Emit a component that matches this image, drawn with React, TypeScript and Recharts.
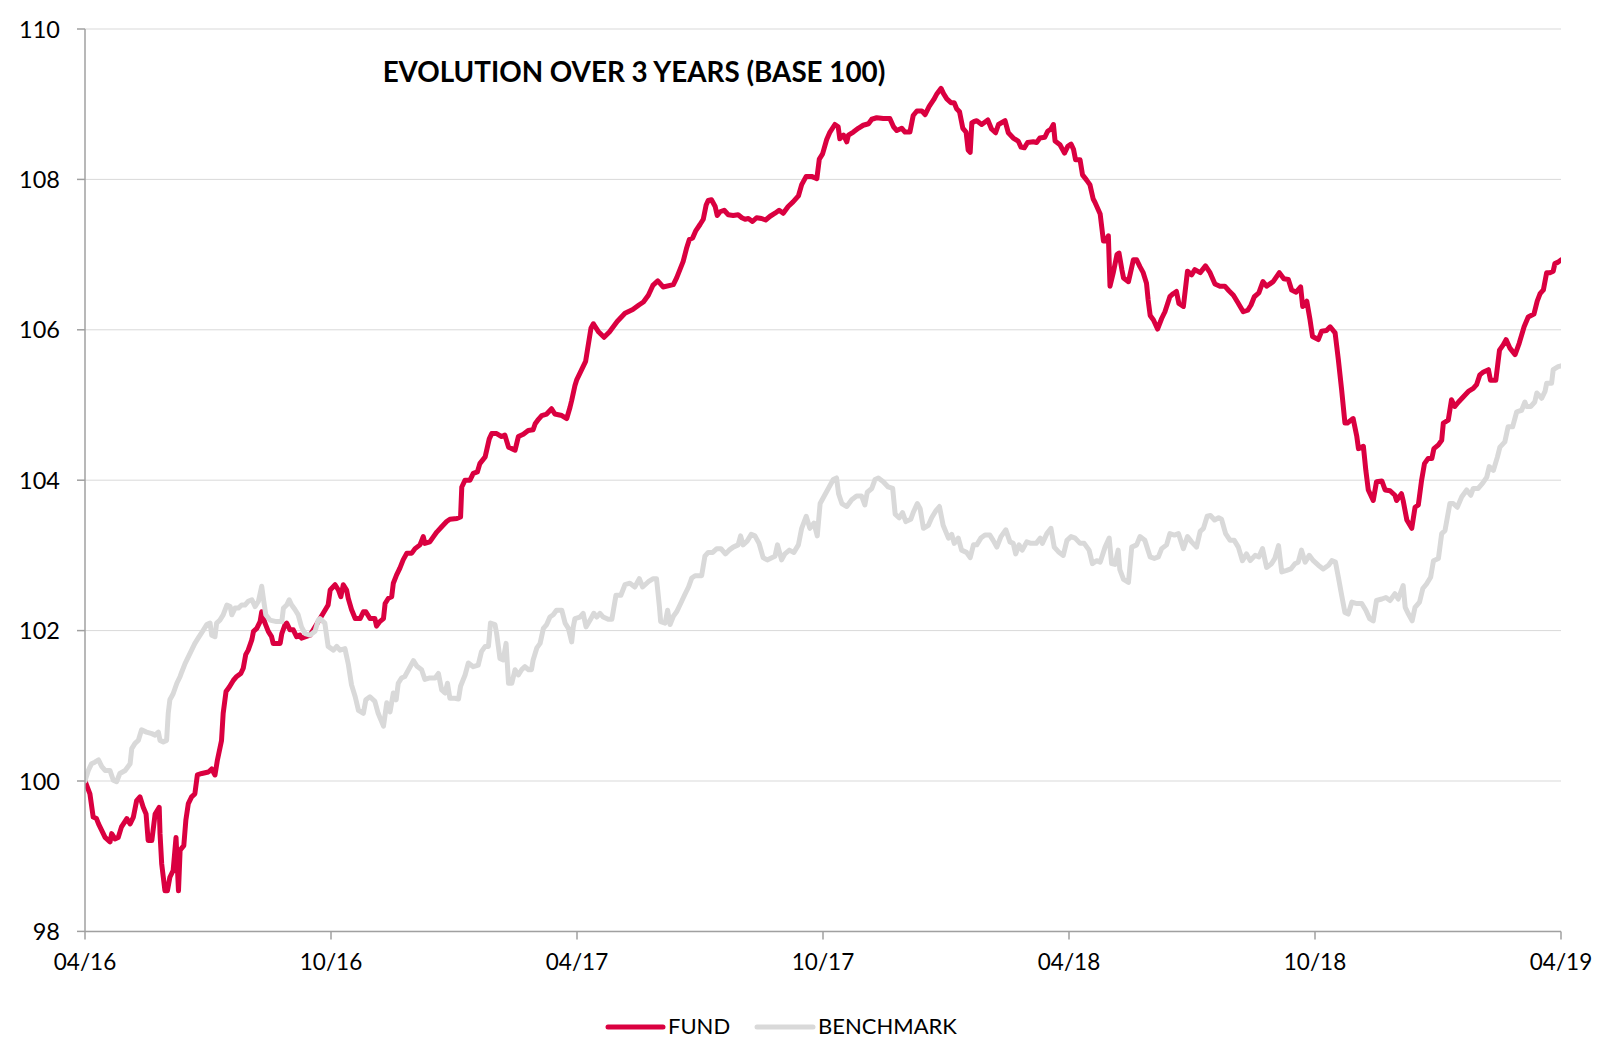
import React from "react";
import { LineChart, Line, XAxis, YAxis, CartesianGrid } from "recharts";

// x = months since 04/16, y = index value (base 100)
const dateLabels = ["04/16", "10/16", "04/17", "10/17", "04/18", "10/18", "04/19"];
const monthTicks = [0, 6, 12, 18, 24, 30, 36];
const valueTicks = [98, 100, 102, 104, 106, 108, 110];

const fundPoints: [number, number][] = [
    [0, 100], [0.12, 99.83], [0.2, 99.52], [0.28, 99.5], [0.33, 99.43], [0.41, 99.34], [0.49, 99.25], [0.61, 99.19],
    [0.65, 99.3], [0.73, 99.23], [0.81, 99.25], [0.89, 99.39], [1.02, 99.5], [1.1, 99.43], [1.18, 99.52], [1.26, 99.74],
    [1.34, 99.79], [1.42, 99.65], [1.49, 99.56], [1.54, 99.21], [1.63, 99.21], [1.71, 99.56], [1.81, 99.65], [1.83, 99.3],
    [1.87, 98.9], [1.95, 98.54], [2.01, 98.54], [2.07, 98.72], [2.15, 98.81], [2.22, 99.25], [2.28, 98.54], [2.32, 99.08],
    [2.41, 99.14], [2.46, 99.48], [2.52, 99.7], [2.6, 99.79], [2.68, 99.83], [2.74, 100.08], [2.85, 100.1], [3.01, 100.12],
    [3.09, 100.16], [3.17, 100.08], [3.23, 100.28], [3.33, 100.54], [3.37, 100.9], [3.44, 101.19], [3.52, 101.25], [3.62, 101.34],
    [3.7, 101.39], [3.8, 101.43], [3.86, 101.5], [3.92, 101.68], [3.98, 101.74], [4.07, 101.88], [4.11, 101.99], [4.19, 102.03],
    [4.27, 102.12], [4.31, 102.25], [4.39, 102.1], [4.47, 101.99], [4.55, 101.92], [4.59, 101.83], [4.76, 101.83], [4.8, 101.96],
    [4.88, 102.08], [4.92, 102.1], [5.0, 102.01], [5.08, 102.01], [5.16, 101.92], [5.24, 101.94], [5.28, 101.9], [5.49, 101.94],
    [5.69, 102.12], [5.81, 102.23], [5.93, 102.34], [5.98, 102.54], [6.1, 102.61], [6.18, 102.54], [6.24, 102.45], [6.3, 102.61],
    [6.38, 102.54], [6.42, 102.43], [6.5, 102.28], [6.59, 102.16], [6.71, 102.16], [6.79, 102.25], [6.85, 102.25], [6.95, 102.16],
    [7.07, 102.16], [7.11, 102.06], [7.19, 102.12], [7.28, 102.16], [7.32, 102.36], [7.4, 102.43], [7.48, 102.45], [7.52, 102.63],
    [7.6, 102.74], [7.68, 102.83], [7.76, 102.94], [7.85, 103.03], [7.97, 103.03], [8.05, 103.09], [8.17, 103.14], [8.25, 103.25],
    [8.29, 103.16], [8.41, 103.18], [8.5, 103.25], [8.58, 103.31], [8.7, 103.38], [8.82, 103.45], [8.9, 103.48], [9.07, 103.49],
    [9.16, 103.51], [9.19, 103.91], [9.27, 104.0], [9.39, 104.0], [9.47, 104.09], [9.57, 104.11], [9.63, 104.22], [9.76, 104.31],
    [9.86, 104.55], [9.92, 104.62], [10.04, 104.62], [10.16, 104.58], [10.24, 104.6], [10.33, 104.44], [10.41, 104.42], [10.49, 104.4],
    [10.57, 104.58], [10.69, 104.61], [10.81, 104.66], [10.93, 104.67], [10.98, 104.75], [11.06, 104.81], [11.14, 104.86], [11.26, 104.88],
    [11.38, 104.95], [11.46, 104.88], [11.63, 104.86], [11.75, 104.82], [11.83, 104.97], [11.87, 105.06], [11.95, 105.26], [11.99, 105.33],
    [12.21, 105.58], [12.34, 106.02], [12.4, 106.08], [12.53, 105.97], [12.66, 105.9], [12.79, 105.97], [12.98, 106.11], [13.17, 106.22],
    [13.36, 106.27], [13.51, 106.33], [13.62, 106.37], [13.74, 106.46], [13.85, 106.59], [13.97, 106.65], [14.1, 106.57], [14.35, 106.6],
    [14.43, 106.69], [14.51, 106.8], [14.59, 106.91], [14.67, 107.08], [14.74, 107.2], [14.82, 107.22], [14.9, 107.32], [15.0, 107.4],
    [15.08, 107.47], [15.15, 107.66], [15.2, 107.72], [15.28, 107.73], [15.37, 107.64], [15.42, 107.52], [15.49, 107.57], [15.59, 107.59],
    [15.69, 107.53], [15.81, 107.52], [15.93, 107.53], [16.02, 107.49], [16.1, 107.47], [16.18, 107.48], [16.28, 107.44], [16.38, 107.49],
    [16.5, 107.48], [16.6, 107.46], [16.71, 107.51], [16.83, 107.55], [16.93, 107.59], [17.03, 107.55], [17.15, 107.64], [17.27, 107.7],
    [17.4, 107.78], [17.48, 107.93], [17.59, 108.04], [17.72, 108.04], [17.85, 108.01], [17.91, 108.27], [17.99, 108.34], [18.09, 108.53],
    [18.17, 108.63], [18.29, 108.73], [18.37, 108.7], [18.41, 108.54], [18.5, 108.59], [18.58, 108.5], [18.62, 108.59], [18.74, 108.63],
    [18.86, 108.68], [18.98, 108.72], [19.11, 108.74], [19.19, 108.8], [19.31, 108.82], [19.47, 108.81], [19.63, 108.81], [19.72, 108.7],
    [19.8, 108.65], [19.92, 108.68], [20.0, 108.63], [20.12, 108.63], [20.2, 108.85], [20.29, 108.91], [20.41, 108.91], [20.49, 108.86],
    [20.59, 108.97], [20.7, 109.06], [20.78, 109.14], [20.88, 109.21], [20.94, 109.14], [21.02, 109.07], [21.12, 109.02], [21.2, 109.02],
    [21.26, 108.94], [21.33, 108.9], [21.41, 108.68], [21.49, 108.63], [21.54, 108.39], [21.59, 108.36], [21.63, 108.75], [21.69, 108.77],
    [21.75, 108.78], [21.87, 108.73], [22.02, 108.79], [22.11, 108.67], [22.21, 108.62], [22.28, 108.73], [22.44, 108.78], [22.52, 108.62],
    [22.64, 108.55], [22.76, 108.51], [22.83, 108.43], [22.91, 108.42], [22.99, 108.49], [23.13, 108.5], [23.21, 108.49], [23.29, 108.55],
    [23.41, 108.56], [23.48, 108.64], [23.56, 108.67], [23.62, 108.73], [23.66, 108.51], [23.78, 108.46], [23.89, 108.35], [23.97, 108.44],
    [24.05, 108.47], [24.11, 108.4], [24.16, 108.26], [24.27, 108.26], [24.33, 108.06], [24.43, 107.99], [24.51, 107.93], [24.59, 107.74],
    [24.63, 107.7], [24.76, 107.54], [24.84, 107.18], [24.9, 107.18], [24.96, 107.25], [25.0, 106.58], [25.08, 106.76], [25.17, 107.0],
    [25.22, 107.02], [25.29, 106.8], [25.33, 106.69], [25.45, 106.64], [25.5, 106.76], [25.57, 106.93], [25.65, 106.93], [25.73, 106.84],
    [25.81, 106.76], [25.89, 106.62], [25.93, 106.4], [25.98, 106.19], [26.06, 106.13], [26.16, 106.01], [26.26, 106.15], [26.34, 106.24],
    [26.46, 106.44], [26.54, 106.48], [26.62, 106.51], [26.68, 106.35], [26.79, 106.31], [26.89, 106.78], [26.99, 106.73], [27.07, 106.8],
    [27.2, 106.76], [27.33, 106.85], [27.44, 106.76], [27.56, 106.61], [27.68, 106.58], [27.8, 106.58], [27.9, 106.52], [28.01, 106.46],
    [28.11, 106.37], [28.25, 106.24], [28.36, 106.26], [28.44, 106.33], [28.52, 106.44], [28.63, 106.49], [28.73, 106.64], [28.82, 106.58],
    [28.98, 106.64], [29.13, 106.76], [29.24, 106.68], [29.35, 106.67], [29.43, 106.53], [29.54, 106.5], [29.65, 106.57], [29.7, 106.31],
    [29.8, 106.38], [29.88, 106.13], [29.94, 105.91], [30.08, 105.87], [30.16, 105.98], [30.28, 105.99], [30.37, 106.04], [30.49, 105.96],
    [30.57, 105.6], [30.65, 105.2], [30.73, 104.76], [30.79, 104.76], [30.93, 104.82], [31.02, 104.58], [31.06, 104.42], [31.18, 104.45],
    [31.24, 104.13], [31.3, 103.87], [31.42, 103.73], [31.5, 103.98], [31.63, 103.99], [31.71, 103.87], [31.83, 103.86], [31.95, 103.8],
    [31.99, 103.73], [32.11, 103.82], [32.15, 103.73], [32.24, 103.47], [32.36, 103.36], [32.44, 103.64], [32.52, 103.67], [32.6, 104.0],
    [32.67, 104.22], [32.76, 104.29], [32.85, 104.29], [32.9, 104.42], [33.01, 104.47], [33.09, 104.53], [33.13, 104.76], [33.25, 104.8],
    [33.33, 105.07], [33.41, 104.98], [33.5, 105.04], [33.62, 105.11], [33.74, 105.18], [33.86, 105.22], [33.94, 105.27], [34.02, 105.4],
    [34.11, 105.44], [34.23, 105.47], [34.28, 105.33], [34.41, 105.33], [34.5, 105.73], [34.59, 105.8], [34.66, 105.87], [34.75, 105.76],
    [34.88, 105.67], [34.98, 105.82], [35.1, 106.04], [35.2, 106.17], [35.34, 106.21], [35.42, 106.38], [35.49, 106.48], [35.57, 106.53],
    [35.65, 106.76], [35.73, 106.76], [35.81, 106.78], [35.85, 106.88], [35.93, 106.9], [36.0, 106.93],
];

const benchmarkPoints: [number, number][] = [
    [0, 100], [0.08, 100.14], [0.16, 100.23], [0.24, 100.25], [0.33, 100.28], [0.41, 100.19], [0.49, 100.14], [0.61, 100.14],
    [0.69, 100.01], [0.77, 99.99], [0.85, 100.1], [0.98, 100.14], [1.1, 100.23], [1.14, 100.43], [1.22, 100.5], [1.3, 100.54],
    [1.38, 100.68], [1.5, 100.65], [1.63, 100.63], [1.71, 100.61], [1.79, 100.65], [1.83, 100.54], [1.91, 100.52], [1.99, 100.54],
    [2.03, 100.9], [2.07, 101.08], [2.15, 101.16], [2.24, 101.3], [2.32, 101.39], [2.36, 101.45], [2.44, 101.56], [2.52, 101.65],
    [2.6, 101.74], [2.68, 101.83], [2.76, 101.9], [2.89, 102.01], [2.97, 102.08], [3.05, 102.1], [3.09, 101.94], [3.17, 101.92],
    [3.21, 102.1], [3.29, 102.14], [3.37, 102.21], [3.46, 102.34], [3.54, 102.32], [3.58, 102.21], [3.66, 102.3], [3.74, 102.3],
    [3.82, 102.34], [3.9, 102.34], [3.98, 102.39], [4.07, 102.41], [4.15, 102.32], [4.23, 102.39], [4.31, 102.59], [4.35, 102.43],
    [4.41, 102.21], [4.51, 102.14], [4.67, 102.12], [4.8, 102.12], [4.84, 102.3], [4.92, 102.34], [4.98, 102.41], [5.04, 102.34],
    [5.12, 102.28], [5.2, 102.21], [5.28, 102.05], [5.37, 101.96], [5.49, 101.94], [5.61, 101.99], [5.69, 102.14], [5.73, 102.16],
    [5.85, 102.1], [5.93, 101.79], [6.06, 101.74], [6.14, 101.79], [6.22, 101.74], [6.34, 101.76], [6.42, 101.56], [6.5, 101.28],
    [6.59, 101.12], [6.67, 100.94], [6.79, 100.9], [6.85, 101.08], [6.95, 101.12], [7.07, 101.06], [7.15, 100.9], [7.28, 100.73],
    [7.36, 101.04], [7.44, 100.92], [7.52, 101.17], [7.59, 101.08], [7.64, 101.3], [7.72, 101.37], [7.8, 101.39], [7.91, 101.5],
    [8.01, 101.6], [8.09, 101.53], [8.21, 101.48], [8.29, 101.35], [8.41, 101.37], [8.54, 101.37], [8.62, 101.43], [8.7, 101.21],
    [8.78, 101.17], [8.84, 101.3], [8.9, 101.1], [9.02, 101.1], [9.11, 101.09], [9.16, 101.26], [9.27, 101.41], [9.35, 101.57],
    [9.47, 101.52], [9.59, 101.54], [9.67, 101.72], [9.76, 101.79], [9.84, 101.79], [9.89, 102.1], [10.0, 102.08], [10.04, 101.96],
    [10.12, 101.63], [10.2, 101.61], [10.27, 101.83], [10.33, 101.3], [10.41, 101.3], [10.49, 101.48], [10.57, 101.41], [10.65, 101.48],
    [10.73, 101.52], [10.82, 101.48], [10.89, 101.48], [10.93, 101.61], [11.02, 101.77], [11.1, 101.83], [11.18, 102.03], [11.26, 102.08],
    [11.34, 102.18], [11.42, 102.21], [11.5, 102.27], [11.63, 102.27], [11.71, 102.1], [11.79, 102.03], [11.87, 101.85], [11.91, 102.05],
    [11.95, 102.16], [12.07, 102.18], [12.15, 102.23], [12.22, 102.05], [12.32, 102.14], [12.41, 102.23], [12.48, 102.18], [12.56, 102.23],
    [12.64, 102.18], [12.76, 102.15], [12.85, 102.15], [12.95, 102.47], [13.07, 102.47], [13.17, 102.61], [13.29, 102.63], [13.41, 102.58],
    [13.52, 102.69], [13.6, 102.58], [13.74, 102.65], [13.86, 102.69], [13.94, 102.69], [14.01, 102.32], [14.04, 102.12], [14.15, 102.1],
    [14.21, 102.27], [14.27, 102.08], [14.35, 102.19], [14.43, 102.25], [14.51, 102.34], [14.63, 102.48], [14.72, 102.58], [14.8, 102.7],
    [14.88, 102.73], [14.96, 102.73], [15.04, 102.73], [15.12, 102.99], [15.2, 103.04], [15.31, 103.04], [15.41, 103.09], [15.51, 103.09],
    [15.62, 103.02], [15.71, 103.07], [15.81, 103.11], [15.93, 103.14], [15.99, 103.26], [16.05, 103.14], [16.15, 103.19], [16.25, 103.28],
    [16.34, 103.26], [16.44, 103.16], [16.54, 102.97], [16.64, 102.94], [16.75, 102.97], [16.83, 102.99], [16.89, 103.14], [16.99, 102.94],
    [17.07, 103.02], [17.18, 103.07], [17.29, 103.04], [17.4, 103.14], [17.48, 103.36], [17.59, 103.52], [17.68, 103.36], [17.78, 103.43],
    [17.86, 103.26], [17.93, 103.69], [18.03, 103.79], [18.13, 103.89], [18.25, 104.01], [18.33, 104.03], [18.38, 103.82], [18.46, 103.69],
    [18.58, 103.65], [18.7, 103.74], [18.82, 103.79], [18.94, 103.79], [19.02, 103.67], [19.08, 103.84], [19.19, 103.89], [19.27, 104.01],
    [19.35, 104.03], [19.47, 103.98], [19.59, 103.91], [19.7, 103.89], [19.76, 103.55], [19.86, 103.5], [19.94, 103.57], [20.02, 103.45],
    [20.14, 103.48], [20.2, 103.57], [20.3, 103.69], [20.37, 103.62], [20.45, 103.36], [20.57, 103.4], [20.65, 103.5], [20.76, 103.6],
    [20.84, 103.65], [20.93, 103.4], [21.06, 103.23], [21.14, 103.28], [21.2, 103.16], [21.3, 103.23], [21.38, 103.07], [21.5, 103.04],
    [21.59, 102.97], [21.67, 103.14], [21.75, 103.14], [21.85, 103.23], [21.95, 103.27], [22.07, 103.27], [22.15, 103.2], [22.24, 103.11],
    [22.34, 103.25], [22.46, 103.34], [22.56, 103.18], [22.64, 103.16], [22.7, 103.02], [22.78, 103.14], [22.86, 103.07], [22.97, 103.18],
    [23.07, 103.16], [23.2, 103.16], [23.3, 103.23], [23.35, 103.16], [23.46, 103.29], [23.56, 103.36], [23.64, 103.11], [23.74, 103.05],
    [23.86, 103.0], [23.95, 103.2], [24.05, 103.25], [24.15, 103.23], [24.27, 103.16], [24.37, 103.16], [24.49, 103.07], [24.57, 102.89],
    [24.67, 102.93], [24.76, 102.91], [24.88, 103.11], [24.98, 103.23], [25.04, 102.89], [25.12, 102.88], [25.2, 103.07], [25.24, 102.81],
    [25.33, 102.68], [25.45, 102.64], [25.53, 103.11], [25.65, 103.14], [25.73, 103.25], [25.85, 103.2], [25.98, 102.98], [26.08, 102.96],
    [26.18, 102.98], [26.26, 103.09], [26.38, 103.14], [26.46, 103.29], [26.57, 103.27], [26.67, 103.29], [26.79, 103.09], [26.89, 103.25],
    [26.99, 103.18], [27.11, 103.11], [27.2, 103.32], [27.28, 103.36], [27.37, 103.52], [27.45, 103.53], [27.55, 103.47], [27.65, 103.5],
    [27.72, 103.48], [27.82, 103.29], [27.93, 103.2], [28.03, 103.2], [28.13, 103.11], [28.23, 102.93], [28.33, 103.02], [28.42, 102.93],
    [28.54, 103.0], [28.63, 102.98], [28.72, 103.09], [28.82, 102.84], [28.94, 102.89], [29.02, 102.96], [29.11, 103.13], [29.19, 102.78],
    [29.31, 102.8], [29.41, 102.82], [29.51, 102.89], [29.59, 102.91], [29.67, 103.07], [29.76, 102.91], [29.86, 103.0], [29.96, 102.93],
    [30.08, 102.87], [30.2, 102.82], [30.33, 102.87], [30.41, 102.93], [30.5, 102.91], [30.57, 102.71], [30.65, 102.47], [30.73, 102.24],
    [30.81, 102.22], [30.9, 102.38], [31.02, 102.36], [31.14, 102.36], [31.24, 102.27], [31.33, 102.16], [31.42, 102.13], [31.5, 102.4],
    [31.63, 102.42], [31.73, 102.44], [31.83, 102.4], [31.95, 102.49], [32.03, 102.42], [32.15, 102.6], [32.2, 102.31], [32.28, 102.22],
    [32.37, 102.13], [32.44, 102.31], [32.55, 102.38], [32.63, 102.56], [32.72, 102.62], [32.82, 102.71], [32.89, 102.93], [33.01, 102.96],
    [33.09, 103.29], [33.17, 103.33], [33.29, 103.69], [33.37, 103.69], [33.47, 103.64], [33.58, 103.78], [33.7, 103.87], [33.8, 103.8],
    [33.86, 103.89], [33.98, 103.89], [34.09, 103.96], [34.19, 104.04], [34.25, 104.18], [34.35, 104.13], [34.45, 104.31], [34.51, 104.44],
    [34.63, 104.51], [34.71, 104.71], [34.82, 104.71], [34.92, 104.91], [35.04, 104.93], [35.12, 105.04], [35.16, 104.98], [35.26, 104.98],
    [35.36, 105.04], [35.41, 105.16], [35.53, 105.09], [35.61, 105.18], [35.65, 105.29], [35.77, 105.29], [35.81, 105.47], [35.93, 105.51],
    [36.0, 105.52],
];

const FUND_COLOR = "#DA0040";
const BENCH_COLOR = "#D9D9D9";
const AXIS_COLOR = "#A0A0A0";
const FONT = "Lato, 'Open Sans', sans-serif";

const fundData = fundPoints.map(([m, v]) => ({ m, fund: v }));
const benchData = benchmarkPoints.map(([m, v]) => ({ m, benchmark: v }));

const XTick = ({ x, y, payload }: any) => (
    <text x={x} y={y + 31} textAnchor="middle" fontFamily={FONT} fontSize={22.5} fill="#000">
        {dateLabels[monthTicks.indexOf(payload.value)]}
    </text>
);

const YTick = ({ x, y, payload }: any) => (
    <text x={x} y={y + 8.5} textAnchor="end" fontFamily={FONT} fontSize={23.5} fill="#000">
        {payload.value}
    </text>
);

const App = () => {
    return (
        <div style={{ position: "relative", width: 1618, height: 1040, background: "#fff" }}>
            <style>{"body{margin:0}"}</style>
            <LineChart
                width={1618}
                height={1040}
                margin={{ top: 29, right: 57, bottom: 58.6, left: 0 }}
            >
                <CartesianGrid vertical={false} stroke="#D9D9D9" strokeWidth={1} />
                <XAxis
                    type="number"
                    dataKey="m"
                    domain={[0, 36]}
                    ticks={monthTicks}
                    height={50}
                    tickSize={8}
                    tickMargin={0}
                    tick={<XTick />}
                    axisLine={{ stroke: AXIS_COLOR, strokeWidth: 1.5 }}
                    tickLine={{ stroke: AXIS_COLOR, strokeWidth: 1.5 }}
                    allowDataOverflow
                />
                <YAxis
                    type="number"
                    domain={[98, 110]}
                    ticks={valueTicks}
                    width={85}
                    tickSize={8}
                    tickMargin={17}
                    tick={<YTick />}
                    axisLine={{ stroke: AXIS_COLOR, strokeWidth: 1.5 }}
                    tickLine={{ stroke: AXIS_COLOR, strokeWidth: 1.5 }}
                    allowDataOverflow
                />
                <Line
                    data={fundData}
                    dataKey="fund"
                    type="linear"
                    stroke={FUND_COLOR}
                    strokeWidth={5}
                    strokeLinejoin="round"
                    strokeLinecap="round"
                    dot={false}
                    activeDot={false}
                    isAnimationActive={false}
                />
                <Line
                    data={benchData}
                    dataKey="benchmark"
                    type="linear"
                    stroke={BENCH_COLOR}
                    strokeWidth={5}
                    strokeLinejoin="round"
                    strokeLinecap="round"
                    dot={false}
                    activeDot={false}
                    isAnimationActive={false}
                />
            </LineChart>
            <svg
                width={1618}
                height={1040}
                style={{ position: "absolute", top: 0, left: 0, pointerEvents: "none" }}
            >
                <text x={634} y={82} textAnchor="middle" fontFamily={FONT} fontWeight={700} fontSize={27.8} fill="#000">
                    EVOLUTION OVER 3 YEARS (BASE 100)
                </text>
                <line x1={608} y1={1027} x2={663} y2={1027} stroke={FUND_COLOR} strokeWidth={5} strokeLinecap="round" />
                <text x={668} y={1034} fontFamily={FONT} fontSize={22} fill="#000">FUND</text>
                <line x1={757} y1={1027} x2={813} y2={1027} stroke={BENCH_COLOR} strokeWidth={5} strokeLinecap="round" />
                <text x={818} y={1034} fontFamily={FONT} fontSize={22} fill="#000">BENCHMARK</text>
            </svg>
        </div>
    );
};

export default App;
